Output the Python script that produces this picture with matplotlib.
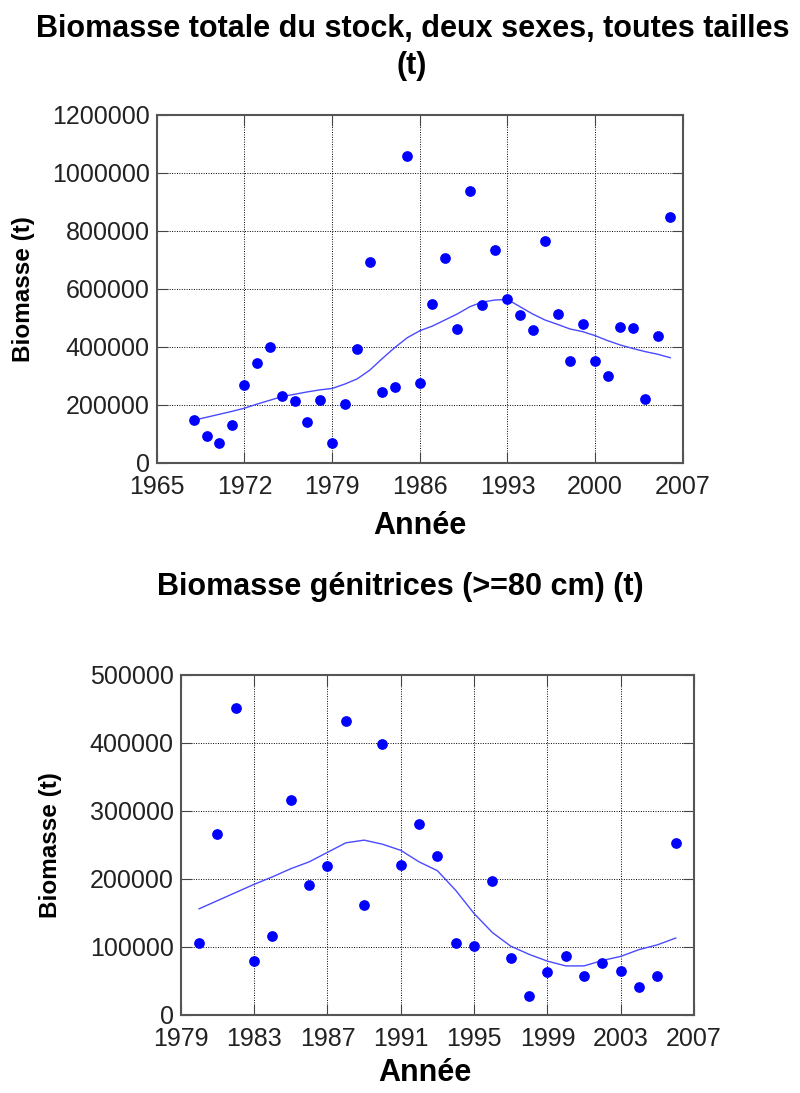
import matplotlib
matplotlib.use("Agg")
import matplotlib.pyplot as plt
from matplotlib.ticker import ScalarFormatter

plt.rcParams['font.family'] = ['Liberation Sans', 'DejaVu Sans']

# total stock biomass, both sexes, all sizes
years_tot = list(range(1968, 2007))
biom_tot = [148000, 93000, 68000, 130000, 269000, 344000, 401000, 231000, 213000, 140000,
            216000, 68000, 205000, 393000, 693000, 245000, 262000, 1058000, 275000, 547000,
            707000, 461000, 939000, 546000, 734000, 564000, 511000, 459000, 767000, 514000,
            352000, 478000, 352000, 301000, 469000, 467000, 221000, 439000, 849000]
smooth_tot = [148000, 158000, 168000, 178000, 189000, 203000, 216000, 229000, 237000, 245000,
              252000, 257000, 272000, 290000, 320000, 360000, 398000, 432000, 456000, 472000,
              493000, 514000, 539000, 555000, 562000, 564000, 539000, 514000, 493000, 478000,
              462000, 453000, 439000, 422000, 407000, 395000, 384000, 375000, 363000]

# spawner biomass (>= 80 cm)
years_sp = list(range(1980, 2007))
biom_sp = [105000, 266000, 452000, 79000, 116000, 316000, 191000, 219000, 432000, 162000,
           399000, 220000, 280000, 234000, 106000, 102000, 197000, 84000, 28000, 63000,
           86000, 57000, 76000, 65000, 41000, 57000, 253000]
smooth_sp = [156000, 168000, 180000, 192000, 203000, 215000, 225000, 239000, 253000, 257000,
             251000, 242000, 225000, 212000, 183000, 149000, 121000, 101000, 89000, 79000,
             72000, 72000, 80000, 86000, 96000, 103000, 113000]

fig = plt.figure(figsize=(8, 10.93), dpi=100)
ax1 = fig.add_axes([0.196, 0.5764, 0.6575, 0.3184])
ax2 = fig.add_axes([0.226, 0.0715, 0.6416, 0.3110])


def style(ax, xticks, yticks, ylabelpad, xlabelpad):
    ax.set_xlim(xticks[0], xticks[-1])
    ax.set_ylim(yticks[0], yticks[-1])
    ax.set_xticks(xticks)
    ax.set_yticks(yticks)
    fmt = ScalarFormatter(useOffset=False)
    fmt.set_scientific(False)
    ax.yaxis.set_major_formatter(fmt)
    ax.grid(True, color="k", linestyle=(0, (1, 1.5)), linewidth=0.7)
    ax.set_axisbelow(True)
    ax.tick_params(direction="in", length=8, top=True, right=True, color="#444",
                   labelsize=18, labelcolor="#222")
    ax.tick_params(axis="x", pad=9)
    ax.tick_params(axis="y", pad=5)
    for s in ax.spines.values():
        s.set_color("#555")
        s.set_linewidth(1.5)
    ax.set_xlabel("Année", fontsize=22, fontweight="bold", labelpad=xlabelpad)
    ax.set_ylabel("Biomasse (t)", fontsize=17.5, fontweight="bold", labelpad=ylabelpad)


ax1.plot(years_tot, smooth_tot, color="#4a4aff", linewidth=1.0)
ax1.scatter(years_tot, biom_tot, s=45, color="#0000ff", zorder=3)
style(ax1, list(range(1965, 2008, 7)), list(range(0, 1200001, 200000)), 12, 8)

ax2.plot(years_sp, smooth_sp, color="#4a4aff", linewidth=1.0)
ax2.scatter(years_sp, biom_sp, s=45, color="#0000ff", zorder=3)
style(ax2, list(range(1979, 2008, 4)), list(range(0, 500001, 100000)), 20, 4)
ax2.xaxis.set_label_coords(0.476, -0.126)

fig.text(0.516, 1 - 37 / 1093, "Biomasse totale du stock, deux sexes, toutes tailles",
         ha="center", va="baseline", fontsize=22, fontweight="bold")
fig.text(0.514, 1 - 74 / 1093, "(t)", ha="center", va="baseline", fontsize=22, fontweight="bold")
fig.text(0.50, 1 - 595 / 1093, "Biomasse génitrices (>=80 cm) (t)",
         ha="center", va="baseline", fontsize=22, fontweight="bold")

fig.savefig("out.png", dpi=100, facecolor="white")
